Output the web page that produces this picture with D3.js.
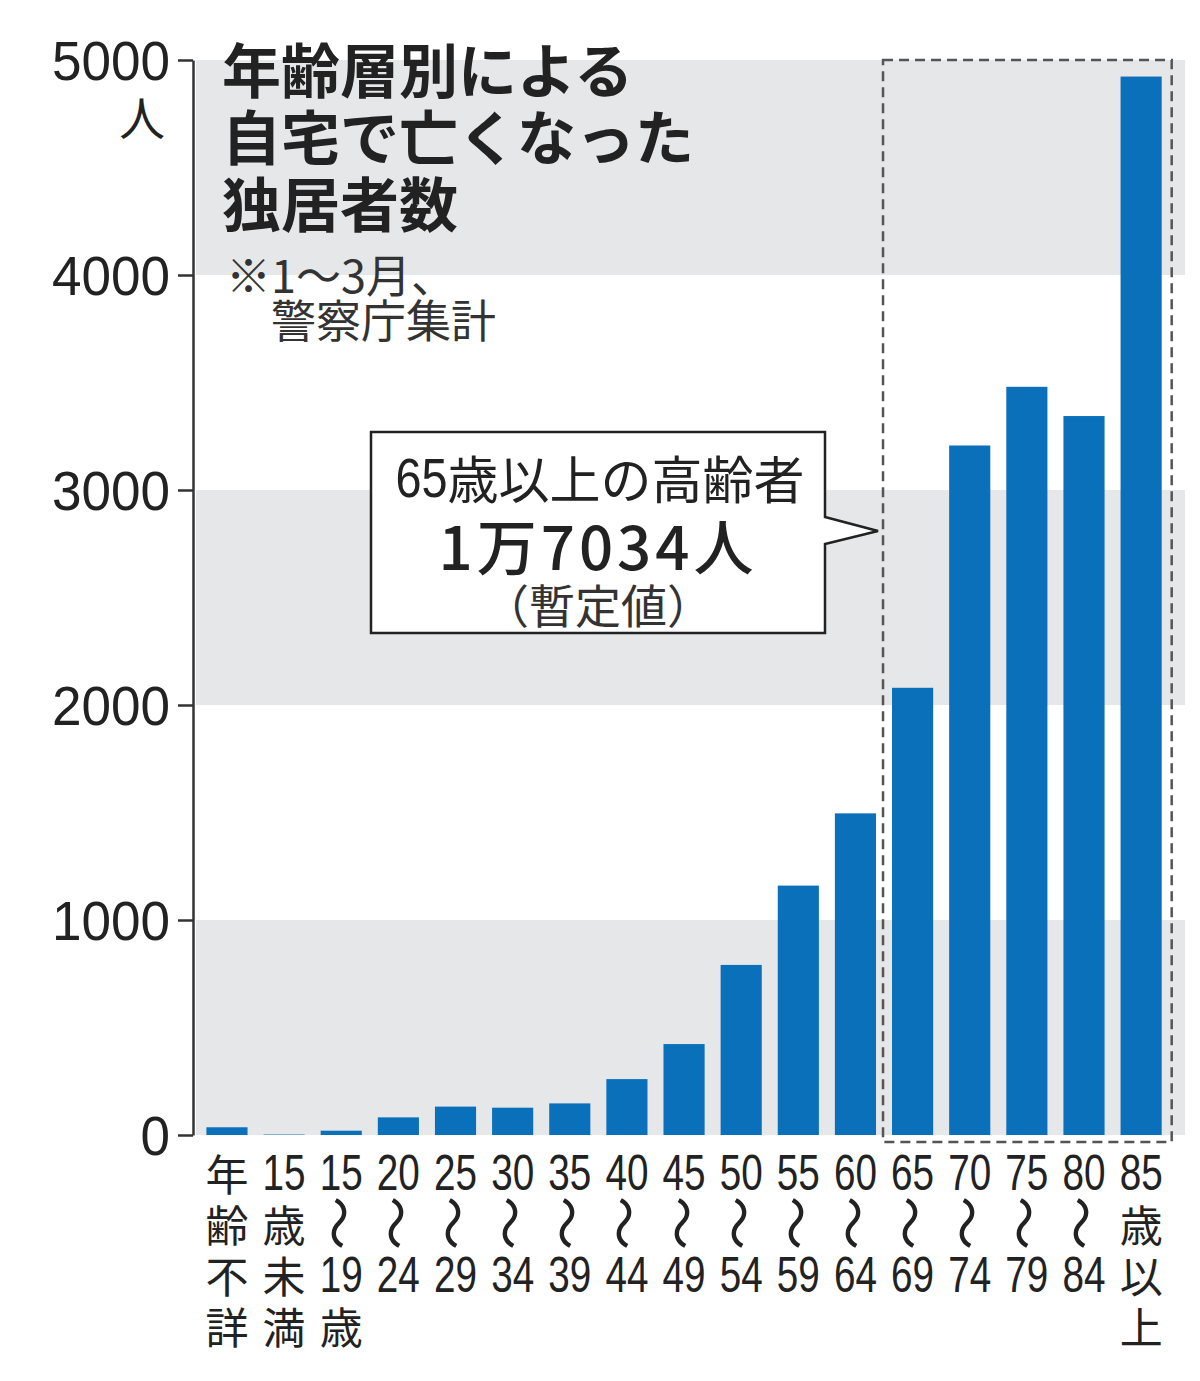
<!DOCTYPE html>
<html lang="ja">
<head>
<meta charset="utf-8">
<script src="https://cdn.jsdelivr.net/npm/d3@7"></script>
<style>
  html, body { margin: 0; padding: 0; background: #fff; }
  svg { display: block; }
</style>
</head>
<body>
<svg id="chart" width="1200" height="1381"></svg>
<script>
// 年齢層（カテゴリ）
const categories = ['年齢不詳', '15歳未満', '15～19歳', '20～24', '25～29', '30～34', '35～39',
  '40～44', '45～49', '50～54', '55～59', '60～64', '65～69', '70～74', '75～79', '80～84', '85歳以上']

// 自宅で亡くなった独居者数（図から読み取った推定値）
const values = [36, 2, 20, 82, 132, 127, 147, 260, 423, 791, 1160, 1496, 2080, 3207, 3480, 3344, 4923]

// 横軸ラベル（縦書き、1行ずつ）
const labelLines = [
  ['年', '齢', '不', '詳'],
  ['15', '歳', '未', '満'],
  ['15', '～', '19', '歳'],
  ['20', '～', '24'],
  ['25', '～', '29'],
  ['30', '～', '34'],
  ['35', '～', '39'],
  ['40', '～', '44'],
  ['45', '～', '49'],
  ['50', '～', '54'],
  ['55', '～', '59'],
  ['60', '～', '64'],
  ['65', '～', '69'],
  ['70', '～', '74'],
  ['75', '～', '79'],
  ['80', '～', '84'],
  ['85', '歳', '以', '上']
]

// 縦軸の目盛り
const yTicks = [0, 1000, 2000, 3000, 4000, 5000]
// 灰色の帯
const bands = [[0, 1000], [2000, 3000], [4000, 5000]]
// 65歳以上の範囲
const elderly = ['65～69', '85歳以上']

const titleLines = ['年齢層別による', '自宅で亡くなった', '独居者数']
const noteLines = ['※1～3月、', '　警察庁集計']
const calloutLines = ['65歳以上の高齢者', '1万7034人', '（暫定値）']

const jp = '"Noto Sans CJK JP", "Noto Sans", sans-serif'
const latin = '"Liberation Sans", Arial, sans-serif'

const svg = d3.select('#chart')

const x = d3.scaleBand()
  .domain(categories)
  .range([198.4, 1169.7])
  .paddingInner(0.28)
  .paddingOuter(0.14)

const y = d3.scaleLinear()
  .domain([0, 5000])
  .range([1135, 60])

// 背景の帯
svg.append('g')
  .selectAll('rect')
  .data(bands)
  .enter()
  .append('rect')
  .attr('x', 196)
  .attr('width', 1185 - 196)
  .attr('y', d => y(d[1]))
  .attr('height', d => y(d[0]) - y(d[1]))
  .attr('fill', '#e6e7e8')

// 棒
svg.append('g')
  .selectAll('rect')
  .data(values)
  .enter()
  .append('rect')
  .attr('x', (d, i) => x(categories[i]))
  .attr('y', d => y(d))
  .attr('width', x.bandwidth())
  .attr('height', d => y(0) - y(d))
  .attr('fill', '#0a70ba')

// 縦軸
const yAxis = d3.axisLeft(y)
  .tickValues(yTicks)
  .tickFormat(d3.format('d'))
  .tickSize(15)
  .tickSizeOuter(0)
  .tickPadding(8)

const yg = svg.append('g')
  .attr('transform', 'translate(193, 0)')
  .call(yAxis)

yg.select('.domain').attr('stroke', '#333').attr('stroke-width', 2.5)
yg.selectAll('.tick line').attr('stroke', '#333').attr('stroke-width', 2.5)
yg.selectAll('.tick text')
  .attr('font-family', latin)
  .attr('font-size', 55)
  .attr('fill', '#222')
  .attr('dy', '0.36em')
  .attr('textLength', d => String(d).length * 29.5)
  .attr('lengthAdjust', 'spacingAndGlyphs')

svg.append('text')
  .attr('x', 142)
  .attr('y', 115)
  .attr('text-anchor', 'middle')
  .attr('dominant-baseline', 'central')
  .attr('font-family', jp)
  .attr('font-size', 46)
  .attr('fill', '#222')
  .text('人')

// 横軸ラベル
const lineStep = 51
const xg = svg.append('g')
  .selectAll('g')
  .data(categories)
  .enter()
  .append('g')
  .attr('transform', d => `translate(${x(d) + x.bandwidth() / 2}, 1172)`)

xg.each(function (d, i) {
  const g = d3.select(this)
  labelLines[i].forEach((s, j) => {
    const t = g.append('text')
      .attr('text-anchor', 'middle')
      .attr('dominant-baseline', 'central')
      .attr('fill', '#222')
      .text(s)
    if (s === '～') {
      t.attr('font-family', jp).attr('font-size', 54)
        .attr('transform', `translate(0, ${j * lineStep}) rotate(90)`)
    } else if (/^\d+$/.test(s)) {
      t.attr('font-family', latin).attr('font-size', 50)
        .attr('y', j * lineStep + 1)
        .attr('textLength', 43)
        .attr('lengthAdjust', 'spacingAndGlyphs')
    } else {
      t.attr('font-family', jp).attr('font-size', 43)
        .attr('y', j * lineStep)
    }
  })
})

// 65歳以上の点線枠
const bx0 = x(elderly[0]) - 9
const bx1 = x(elderly[1]) + x.bandwidth() + 10
svg.append('rect')
  .attr('x', bx0)
  .attr('y', y(5000))
  .attr('width', bx1 - bx0)
  .attr('height', 1142 - y(5000))
  .attr('fill', 'none')
  .attr('stroke', '#555')
  .attr('stroke-width', 2.5)
  .attr('stroke-dasharray', '10 6')

// 吹き出し
const cb = { x: 371, y: 432, w: 454, h: 201 }
const tipX = bx0 - 5
svg.append('path')
  .attr('d', `M${cb.x},${cb.y} H${cb.x + cb.w} V${517} L${tipX},${531} L${cb.x + cb.w},${544} V${cb.y + cb.h} H${cb.x} Z`)
  .attr('fill', '#fff')
  .attr('stroke', '#222')
  .attr('stroke-width', 2.5)
  .attr('stroke-linejoin', 'miter')

const cx = cb.x + cb.w / 2
svg.append('text')
  .attr('x', cx + 2).attr('y', 477)
  .attr('text-anchor', 'middle').attr('dominant-baseline', 'central')
  .attr('fill', '#222')
  .attr('font-family', jp).attr('font-size', 51)
  .call(t => {
    t.append('tspan').attr('font-family', latin).attr('font-size', 56)
      .attr('textLength', 52).attr('lengthAdjust', 'spacingAndGlyphs').text('65')
    t.append('tspan').text(calloutLines[0].slice(2))
  })

svg.append('text')
  .attr('x', cx).attr('y', 543)
  .attr('text-anchor', 'middle').attr('dominant-baseline', 'central')
  .attr('fill', '#222')
  .attr('font-family', jp).attr('font-size', 60).attr('font-weight', 500)
  .attr('letter-spacing', 4)
  .text(calloutLines[1])

svg.append('text')
  .attr('x', cx).attr('y', 603)
  .attr('text-anchor', 'middle').attr('dominant-baseline', 'central')
  .attr('fill', '#333')
  .attr('font-family', jp).attr('font-size', 46)
  .text(calloutLines[2])

// タイトル
svg.append('g')
  .selectAll('text')
  .data(titleLines)
  .enter()
  .append('text')
  .attr('x', 222)
  .attr('y', (d, i) => 67 + i * 67)
  .attr('dominant-baseline', 'central')
  .attr('font-family', jp)
  .attr('font-size', 59)
  .attr('font-weight', 700)
  .attr('fill', '#222')
  .text(d => d)

svg.append('g')
  .selectAll('text')
  .data(noteLines)
  .enter()
  .append('text')
  .attr('x', 226)
  .attr('y', (d, i) => 273 + i * 45)
  .attr('dominant-baseline', 'central')
  .attr('font-family', jp)
  .attr('font-size', 45)
  .attr('fill', '#333')
  .text(d => d)
</script>
</body>
</html>
